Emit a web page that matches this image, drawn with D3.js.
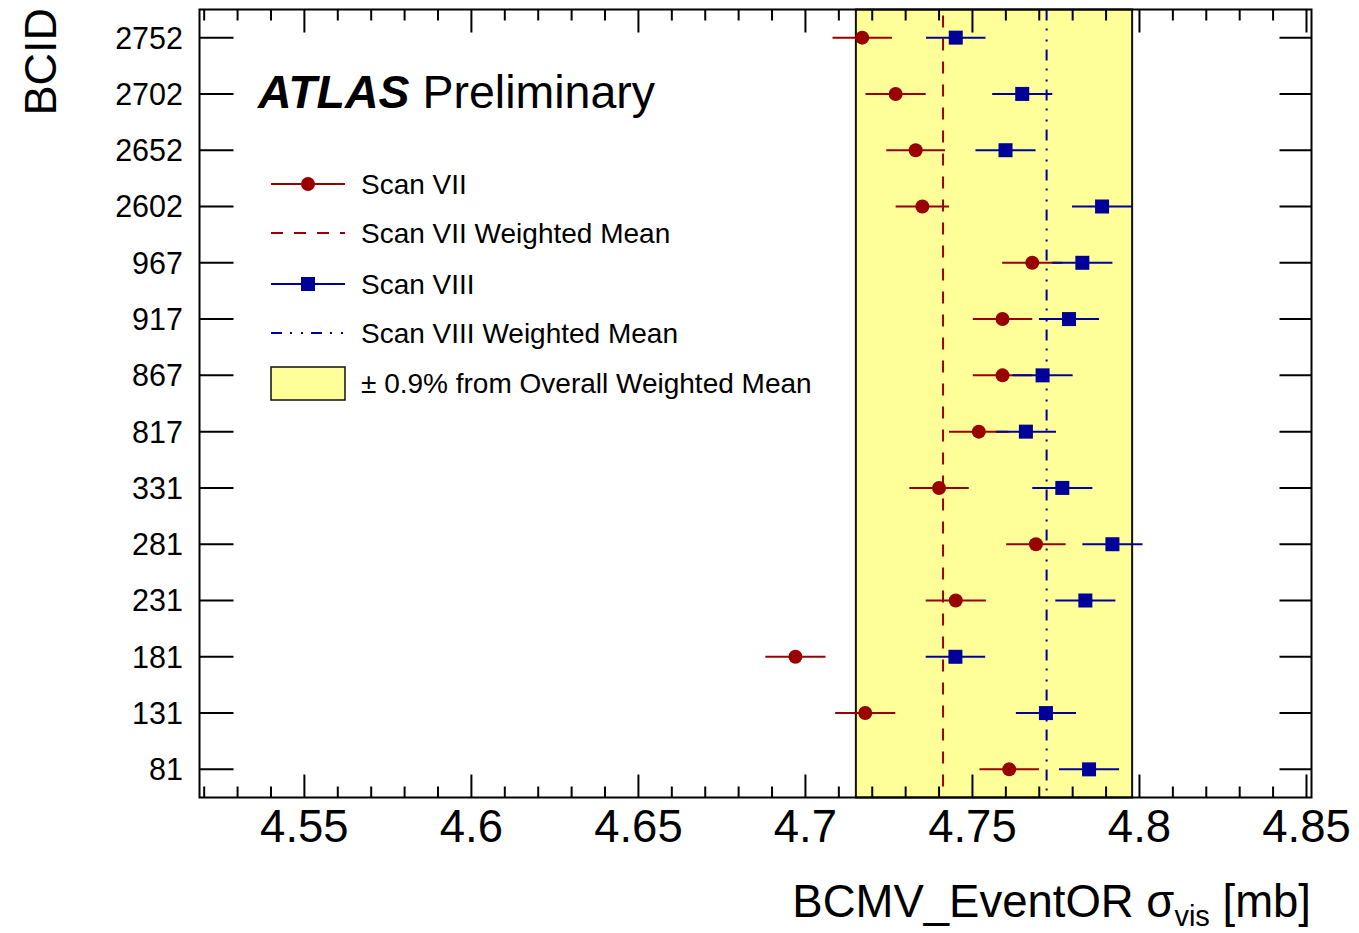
<!DOCTYPE html>
<html>
<head>
<meta charset="utf-8">
<script src="https://cdn.jsdelivr.net/npm/d3@7"></script>
<style>
  html, body { margin: 0; padding: 0; background: #ffffff; }
  svg { display: block; }
  text { font-family: "Liberation Sans", Arial, Helvetica, sans-serif; fill: #000; }
</style>
</head>
<body>
<svg id="chart" width="1359" height="933"></svg>
<script>
// BCID labels, listed top to bottom
const bcids = ["2752", "2702", "2652", "2602", "967", "917", "867", "817", "331", "281", "231", "181", "131", "81"];

// Scan VII visible cross-section per BCID [mb] and its uncertainty
const scan7Values = [4.7170, 4.7270, 4.7330, 4.7350, 4.7679, 4.7590, 4.7590, 4.7519, 4.7400, 4.7690, 4.7450, 4.6970, 4.7179, 4.7610];
const scan7Errors = [0.0089, 0.0090, 0.0088, 0.0080, 0.0090, 0.0089, 0.0089, 0.0089, 0.0089, 0.0089, 0.0090, 0.0090, 0.0090, 0.0089];

// Scan VIII visible cross-section per BCID [mb] and its uncertainty
const scan8Values = [4.7450, 4.7649, 4.7599, 4.7888, 4.7829, 4.7789, 4.7710, 4.7660, 4.7769, 4.7919, 4.7838, 4.7449, 4.7720, 4.7849];
const scan8Errors = [0.0089, 0.0090, 0.0090, 0.0090, 0.0090, 0.0090, 0.0090, 0.0090, 0.0090, 0.0090, 0.0090, 0.0089, 0.0090, 0.0090];

// Weighted means and the ±0.9% band around the overall weighted mean
const scan7Mean = 4.7412;
const scan8Mean = 4.7722;
const bandLimits = [4.7151, 4.7978];

// Axis range and ticks
const xDomain = [4.5186, 4.8515];
const xMajorTicks = [4.55, 4.6, 4.65, 4.7, 4.75, 4.8, 4.85];
const xMinorTicks = [4.52, 4.53, 4.54, 4.56, 4.57, 4.58, 4.59, 4.61, 4.62, 4.63, 4.64, 4.66, 4.67, 4.68, 4.69,
                     4.71, 4.72, 4.73, 4.74, 4.76, 4.77, 4.78, 4.79, 4.81, 4.82, 4.83, 4.84];
const xTickLabels = ["4.55", "4.6", "4.65", "4.7", "4.75", "4.8", "4.85"];

// Legend entries
const legendLabels = ["Scan VII", "Scan VII Weighted Mean", "Scan VIII", "Scan VIII Weighted Mean", "\u00B1 0.9% from Overall Weighted Mean"];

const RED = "#990000";
const BLUE = "#000099";
const YELLOW = "#ffff99";

const svg = d3.select("#chart");
const frame = { left: 199.5, right: 1311.5, top: 9.5, bottom: 797.5 };

const x = d3.scaleLinear().domain(xDomain).range([frame.left, frame.right]);
const y = d3.scaleBand().domain(bcids).range([frame.top, frame.bottom]);
const yc = d => y(d) + y.bandwidth() / 2;

const plot = svg.append("g");

// Yellow band
plot.append("rect")
  .attr("x", x(bandLimits[0]))
  .attr("y", frame.top)
  .attr("width", x(bandLimits[1]) - x(bandLimits[0]))
  .attr("height", frame.bottom - frame.top)
  .attr("fill", YELLOW)
  .attr("stroke", "#111")
  .attr("stroke-width", 2);

// Weighted mean lines
plot.append("line")
  .attr("x1", x(scan7Mean)).attr("x2", x(scan7Mean))
  .attr("y1", frame.top + 6).attr("y2", frame.bottom)
  .attr("stroke", RED).attr("stroke-width", 2)
  .attr("stroke-dasharray", "12,11");

plot.append("line")
  .attr("x1", x(scan8Mean)).attr("x2", x(scan8Mean))
  .attr("y1", frame.top).attr("y2", frame.bottom)
  .attr("stroke", BLUE).attr("stroke-width", 2)
  .attr("stroke-dasharray", "11,8,2,9,2,8");

// Scan VII / VIII: error bars, circles and squares
const s7 = bcids.map((b, i) => ({ b, v: scan7Values[i], e: scan7Errors[i] }));
const s8 = bcids.map((b, i) => ({ b, v: scan8Values[i], e: scan8Errors[i] }));

plot.selectAll(".err7").data(s7).enter().append("line")
  .attr("x1", d => x(d.v - d.e)).attr("x2", d => x(d.v + d.e))
  .attr("y1", d => yc(d.b)).attr("y2", d => yc(d.b))
  .attr("stroke", RED).attr("stroke-width", 2);

plot.selectAll(".err8").data(s8).enter().append("line")
  .attr("x1", d => x(d.v - d.e)).attr("x2", d => x(d.v + d.e))
  .attr("y1", d => yc(d.b)).attr("y2", d => yc(d.b))
  .attr("stroke", BLUE).attr("stroke-width", 2);

plot.selectAll(".pt7").data(s7).enter().append("circle")
  .attr("cx", d => x(d.v)).attr("cy", d => yc(d.b))
  .attr("r", 7).attr("fill", RED);

const sq = 14;
plot.selectAll(".pt8").data(s8).enter().append("rect")
  .attr("x", d => x(d.v) - sq / 2).attr("y", d => yc(d.b) - sq / 2)
  .attr("width", sq).attr("height", sq).attr("fill", BLUE);

// Frame
const axes = svg.append("g").attr("stroke", "#000").attr("fill", "none");
axes.append("rect")
  .attr("x", frame.left).attr("y", frame.top)
  .attr("width", frame.right - frame.left).attr("height", frame.bottom - frame.top)
  .attr("stroke-width", 2);

// X ticks on bottom and top
const majorLen = 23, minorLen = 11;
xMajorTicks.forEach(t => {
  axes.append("line").attr("x1", x(t)).attr("x2", x(t))
    .attr("y1", frame.bottom).attr("y2", frame.bottom - majorLen).attr("stroke-width", 2);
  axes.append("line").attr("x1", x(t)).attr("x2", x(t))
    .attr("y1", frame.top).attr("y2", frame.top + majorLen).attr("stroke-width", 2);
});
xMinorTicks.forEach(t => {
  axes.append("line").attr("x1", x(t)).attr("x2", x(t))
    .attr("y1", frame.bottom).attr("y2", frame.bottom - minorLen).attr("stroke-width", 2);
  axes.append("line").attr("x1", x(t)).attr("x2", x(t))
    .attr("y1", frame.top).attr("y2", frame.top + minorLen).attr("stroke-width", 2);
});

// Y ticks on left and right
bcids.forEach(b => {
  axes.append("line").attr("x1", frame.left).attr("x2", frame.left + 34)
    .attr("y1", yc(b)).attr("y2", yc(b)).attr("stroke-width", 2);
  axes.append("line").attr("x1", frame.right).attr("x2", frame.right - 32)
    .attr("y1", yc(b)).attr("y2", yc(b)).attr("stroke-width", 2);
});

// Tick labels
svg.selectAll(".xlab").data(xMajorTicks).enter().append("text")
  .attr("x", d => x(d)).attr("y", 842)
  .attr("text-anchor", "middle").attr("font-size", 45.5)
  .text((d, i) => xTickLabels[i]);

svg.selectAll(".ylab").data(bcids).enter().append("text")
  .attr("x", 183).attr("y", d => yc(d)).attr("dy", "0.36em")
  .attr("text-anchor", "end").attr("font-size", 30.5)
  .text(d => d);

// Axis titles
const xt = svg.append("text")
  .attr("x", 1311).attr("y", 917)
  .attr("text-anchor", "end").attr("font-size", 45.5);
xt.append("tspan").text("BCMV_EventOR \u03C3");
xt.append("tspan").attr("font-size", 29).attr("dy", 9).text("vis");
xt.append("tspan").attr("dy", -9).text(" [mb]");

svg.append("text")
  .attr("transform", "translate(56,8) rotate(-90)")
  .attr("text-anchor", "end").attr("font-size", 45)
  .text("BCID");

// ATLAS label
const atlas = svg.append("text").attr("x", 258).attr("y", 108).attr("font-size", 46.5);
atlas.append("tspan").attr("font-weight", "bold").attr("font-style", "italic").text("ATLAS");
atlas.append("tspan").text(" Preliminary");

// Legend
const legY = [184, 233, 284, 333, 383];
const lx0 = 271, lx1 = 345, lxm = 308, ltx = 361;
const leg = svg.append("g");

leg.append("line").attr("x1", lx0).attr("x2", lx1).attr("y1", legY[0]).attr("y2", legY[0])
  .attr("stroke", RED).attr("stroke-width", 2);
leg.append("circle").attr("cx", lxm).attr("cy", legY[0]).attr("r", 7).attr("fill", RED);

leg.append("line").attr("x1", lx0).attr("x2", lx1).attr("y1", legY[1]).attr("y2", legY[1])
  .attr("stroke", RED).attr("stroke-width", 2).attr("stroke-dasharray", "12,11");

leg.append("line").attr("x1", lx0).attr("x2", lx1).attr("y1", legY[2]).attr("y2", legY[2])
  .attr("stroke", BLUE).attr("stroke-width", 2);
leg.append("rect").attr("x", lxm - sq / 2).attr("y", legY[2] - sq / 2)
  .attr("width", sq).attr("height", sq).attr("fill", BLUE);

leg.append("line").attr("x1", lx0).attr("x2", lx1).attr("y1", legY[3]).attr("y2", legY[3])
  .attr("stroke", BLUE).attr("stroke-width", 2).attr("stroke-dasharray", "11,8,2,9,2,8");

leg.append("rect").attr("x", lx0).attr("y", 367).attr("width", lx1 - lx0).attr("height", 33)
  .attr("fill", YELLOW).attr("stroke", "#111").attr("stroke-width", 1.5);

leg.selectAll(".ltext").data(legendLabels).enter().append("text")
  .attr("x", ltx).attr("y", (d, i) => legY[i]).attr("dy", "0.36em")
  .attr("font-size", 28)
  .text(d => d);
</script>
</body>
</html>
